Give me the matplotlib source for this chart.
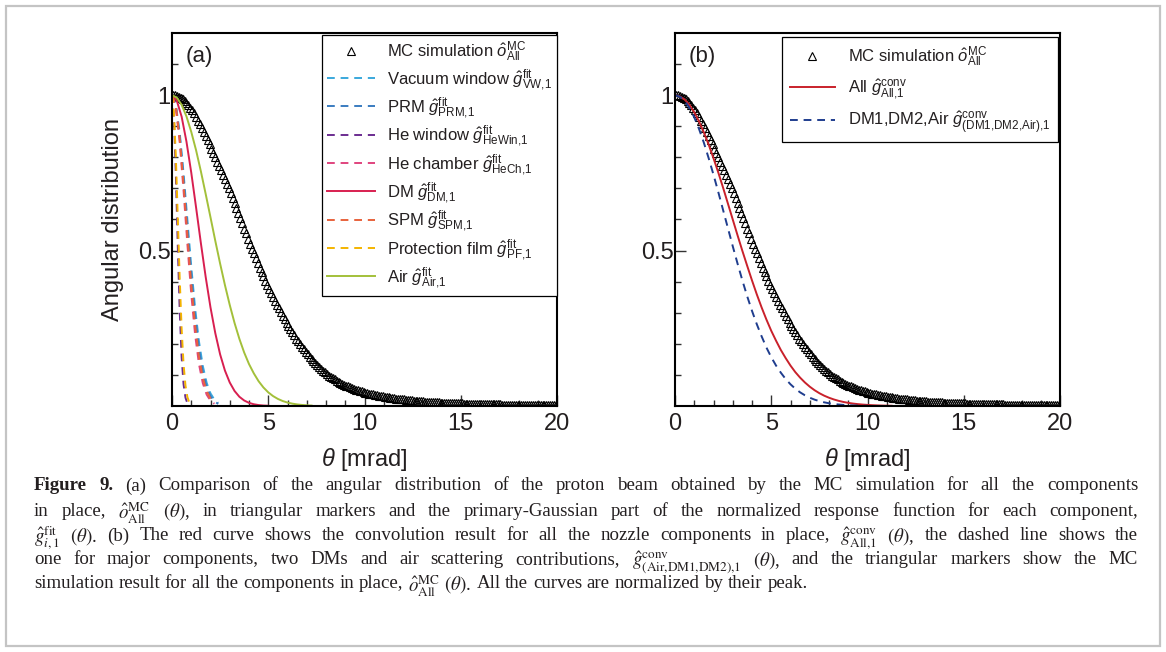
import numpy as np
import matplotlib
matplotlib.use("Agg")
import matplotlib.pyplot as plt
from matplotlib.patches import Rectangle
from matplotlib.ticker import FixedLocator, FixedFormatter

plt.rcParams['font.family'] = ['Liberation Sans', 'DejaVu Sans']
plt.rcParams['mathtext.fontset'] = 'custom'
plt.rcParams['mathtext.rm'] = 'Liberation Sans'
plt.rcParams['mathtext.it'] = 'Liberation Sans:italic'
plt.rcParams['mathtext.bf'] = 'Liberation Sans:bold'

# ---------------- data ----------------
theta_mc = np.round(np.arange(0.05, 20.0, 0.1), 2)
mc_all = [
    1.000, 0.999, 0.997, 0.995, 0.991, 0.988, 0.982, 0.975, 0.967, 0.958,
    0.951, 0.942, 0.930, 0.918, 0.906, 0.894, 0.881, 0.868, 0.855, 0.842,
    0.828, 0.814, 0.800, 0.786, 0.772, 0.758, 0.744, 0.729, 0.715, 0.700,
    0.685, 0.669, 0.653, 0.637, 0.620, 0.604, 0.588, 0.571, 0.555, 0.538,
    0.522, 0.506, 0.491, 0.475, 0.460, 0.445, 0.431, 0.417, 0.403, 0.390,
    0.377, 0.364, 0.351, 0.339, 0.326, 0.314, 0.302, 0.290, 0.279, 0.268,
    0.257, 0.247, 0.237, 0.227, 0.217, 0.208, 0.199, 0.190, 0.182, 0.174,
    0.166, 0.159, 0.152, 0.145, 0.138, 0.131, 0.125, 0.119, 0.113, 0.108,
    0.103, 0.098, 0.094, 0.090, 0.086, 0.082, 0.078, 0.075, 0.071, 0.068,
    0.065, 0.063, 0.060, 0.058, 0.055, 0.053, 0.051, 0.049, 0.047, 0.045,
    0.043, 0.042, 0.040, 0.039, 0.037, 0.036, 0.034, 0.033, 0.032, 0.031,
    0.030, 0.028, 0.028, 0.027, 0.025, 0.025, 0.024, 0.023, 0.022, 0.021,
    0.021, 0.020, 0.019, 0.019, 0.018, 0.017, 0.017, 0.016, 0.016, 0.015,
    0.0150, 0.0142, 0.0138, 0.0133, 0.0128, 0.0125, 0.0120, 0.0118, 0.0113, 0.0110,
    0.0108, 0.0104, 0.0103, 0.0098, 0.0097, 0.0092, 0.0091, 0.0088, 0.0086, 0.0083,
    0.0082, 0.0078, 0.0078, 0.0075, 0.0074, 0.0071, 0.0070, 0.0067, 0.0066, 0.0064,
    0.0063, 0.0060, 0.0061, 0.0057, 0.0058, 0.0054, 0.0055, 0.0051, 0.0052, 0.0049,
    0.0050, 0.0046, 0.0048, 0.0044, 0.0045, 0.0043, 0.0043, 0.0040, 0.0042, 0.0038,
    0.0040, 0.0037, 0.0038, 0.0035, 0.0037, 0.0034, 0.0035, 0.0033, 0.0033, 0.0031,
    0.0032, 0.0030, 0.0031, 0.0028, 0.0030, 0.0027, 0.0029, 0.0026, 0.0028, 0.0025,
]

theta_narrow = np.round(np.arange(0.0, 1.01, 0.1), 2)
he_window = [1.0, 0.929, 0.744, 0.514, 0.306, 0.157, 0.070, 0.0267, 0.0088]
prot_film = [1.0, 0.946, 0.801, 0.607, 0.411, 0.249, 0.135, 0.066, 0.0286, 0.0111, 0.0039]

theta_mid = np.round(np.arange(0.0, 2.41, 0.2), 2)
he_chamber = [1.0, 0.960, 0.849, 0.693, 0.520, 0.360, 0.230, 0.135, 0.0734, 0.0367, 0.0169, 0.0072]
spm = [1.0, 0.963, 0.860, 0.713, 0.549, 0.391, 0.259, 0.159, 0.0905, 0.0478, 0.0234, 0.0107]
prm = [1.0, 0.966, 0.871, 0.732, 0.575, 0.421, 0.288, 0.183, 0.109, 0.0605, 0.0313, 0.0151, 0.0068]
vac_window = [1.0, 0.968, 0.880, 0.749, 0.599, 0.449, 0.315, 0.208, 0.129, 0.0746, 0.0406, 0.0207, 0.0099]

theta_wide = np.round(np.arange(0.0, 11.26, 0.25), 2)
dm = [1.0, 0.982, 0.931, 0.851, 0.751, 0.639, 0.524, 0.415, 0.317, 0.234, 0.166,
      0.114, 0.0756, 0.0483, 0.0297, 0.0177, 0.0101, 0.0056, 0.0030, 0.0015, 0.0008]
air = [1.0, 0.992, 0.969, 0.932, 0.882, 0.823, 0.755, 0.682, 0.607, 0.531, 0.458,
       0.389, 0.325, 0.267, 0.216, 0.172, 0.135, 0.105, 0.0796, 0.0596, 0.0439,
       0.0319, 0.0228, 0.0160, 0.0111, 0.0076, 0.0051, 0.0034, 0.0022, 0.0014]
conv_all = [1.0, 0.996, 0.986, 0.969, 0.945, 0.915, 0.880, 0.841, 0.797, 0.751, 0.702,
            0.651, 0.600, 0.549, 0.499, 0.451, 0.404, 0.359, 0.317, 0.278, 0.242,
            0.210, 0.180, 0.154, 0.130, 0.109, 0.0912, 0.0756, 0.0622, 0.0508, 0.0412,
            0.0332, 0.0266, 0.0211, 0.0166, 0.0130, 0.0101, 0.0078, 0.0060, 0.0046, 0.0035,
            0.0026, 0.0019, 0.0014, 0.0010, 0.0008]
conv_major = [1.0, 0.995, 0.982, 0.959, 0.929, 0.891, 0.847, 0.797, 0.744, 0.688, 0.630,
              0.572, 0.514, 0.458, 0.404, 0.353, 0.306, 0.263, 0.224, 0.188, 0.157,
              0.130, 0.107, 0.0867, 0.0698, 0.0556, 0.0439, 0.0344, 0.0267, 0.0205, 0.0156,
              0.0118, 0.0088, 0.0065, 0.0048, 0.0035, 0.0025, 0.0018, 0.0013, 0.0009, 0.0006]

lab_mc = r'MC simulation $\hat{o}^{\mathrm{MC}}_{\mathrm{All}}$'
labels_a = [
    r'Vacuum window $\hat{g}^{\mathrm{fit}}_{\mathrm{VW{,}1}}$',
    r'PRM $\hat{g}^{\mathrm{fit}}_{\mathrm{PRM{,}1}}$',
    r'He window $\hat{g}^{\mathrm{fit}}_{\mathrm{HeWin{,}1}}$',
    r'He chamber $\hat{g}^{\mathrm{fit}}_{\mathrm{HeCh{,}1}}$',
    r'DM $\hat{g}^{\mathrm{fit}}_{\mathrm{DM{,}1}}$',
    r'SPM $\hat{g}^{\mathrm{fit}}_{\mathrm{SPM{,}1}}$',
    r'Protection film $\hat{g}^{\mathrm{fit}}_{\mathrm{PF{,}1}}$',
    r'Air $\hat{g}^{\mathrm{fit}}_{\mathrm{Air{,}1}}$',
]
labels_b = [r'All $\hat{g}^{\mathrm{conv}}_{\mathrm{All{,}1}}$',
            r'DM1,DM2,Air $\hat{g}^{\mathrm{conv}}_{\mathrm{(DM1{,}DM2{,}Air){,}1}}$']

x_ticks = [0, 5, 10, 15, 20]
y_ticks = [0.5, 1.0]
y_tick_labels = ['0.5', '1']

# ---------------- figure ----------------
W, H = 1166, 652
fig = plt.figure(figsize=(W / 100, H / 100), dpi=100)
fig.patches.append(Rectangle((6 / W, 6 / H), 1154 / W, 640 / H, transform=fig.transFigure,
                             fill=False, edgecolor='#c4c4c4', lw=1.6))

def px_axes(x0, x1, ytop, ybot):
    return fig.add_axes([x0 / W, 1 - ybot / H, (x1 - x0) / W, (ybot - ytop) / H])

axa = px_axes(172, 557, 33, 406)
axb = px_axes(675, 1060, 33, 406)

tick_col = '#231f20'
for ax in (axa, axb):
    ax.set_xlim(0, 20)
    ax.set_ylim(0, 1.2)
    for s in ax.spines.values():
        s.set_linewidth(1.5)
        s.set_color('black')
    ax.xaxis.set_major_locator(FixedLocator(x_ticks))
    ax.xaxis.set_minor_locator(FixedLocator([v for v in range(0, 21) if v % 5]))
    ax.yaxis.set_major_locator(FixedLocator(y_ticks))
    ax.yaxis.set_major_formatter(FixedFormatter(y_tick_labels))
    ax.yaxis.set_minor_locator(FixedLocator([round(0.1 * k, 1) for k in range(1, 12) if k not in (5, 10)]))
    ax.tick_params(which='both', direction='in', top=False, right=False, colors='#333333',
                   labelcolor=tick_col, labelsize=17)
    ax.tick_params(which='major', length=8, width=1.0)
    ax.tick_params(which='minor', length=4.5, width=1.0)
    ax.tick_params(axis='y', pad=1)
    ax.tick_params(axis='x', pad=5)
    ax.set_xlabel(r'$\theta$ [mrad]', fontsize=17, color=tick_col, labelpad=8)

axa.set_ylabel('Angular distribution', fontsize=17, color=tick_col, labelpad=10)

mk = dict(ls='none', marker='^', ms=5.5, mfc='none', mec='black', mew=0.8)
dash = (0, (4, 3))

# panel (a)
axa.plot(theta_mc, mc_all, label=lab_mc, **mk)
axa.plot(theta_mid[:len(vac_window)], vac_window, color='#3aa8dc', ls=dash, lw=1.4, label=labels_a[0])
axa.plot(theta_mid[:len(prm)], prm, color='#3a7cc0', ls=dash, lw=1.4, label=labels_a[1])
axa.plot(theta_narrow[:len(he_window)], he_window, color='#6b2d90', ls=dash, lw=1.4, label=labels_a[2])
axa.plot(theta_mid[:len(he_chamber)], he_chamber, color='#e0447e', ls=dash, lw=1.4, label=labels_a[3])
axa.plot(theta_wide[:len(dm)], dm, color='#d81f50', ls='-', lw=1.4, label=labels_a[4])
axa.plot(theta_mid[:len(spm)], spm, color='#e8623c', ls=dash, lw=1.4, label=labels_a[5])
axa.plot(theta_narrow[:len(prot_film)], prot_film, color='#f4b400', ls=dash, lw=1.4, label=labels_a[6])
axa.plot(theta_wide[:len(air)], air, color='#a3c03a', ls='-', lw=1.4, label=labels_a[7])

axa.text(0.035, 0.965, '(a)', transform=axa.transAxes, fontsize=16, color=tick_col, va='top', ha='left')
lega = axa.legend(loc='upper right', bbox_to_anchor=(1.0, 0.995), fontsize=12, frameon=True,
                  fancybox=False, edgecolor='black', framealpha=1, handlelength=2.9,
                  handletextpad=0.7, labelspacing=0.14, borderpad=0.3, borderaxespad=0)
lega.get_frame().set_linewidth(0.9)
for t in lega.get_texts():
    t.set_color(tick_col)

# panel (b)
axb.plot(theta_mc, mc_all, label=lab_mc, **mk)
axb.plot(theta_wide[:len(conv_all)], conv_all, color='#c9212b', ls='-', lw=1.4, label=labels_b[0])
axb.plot(theta_wide[:len(conv_major)], conv_major, color='#1f3d8e', ls=dash, lw=1.4, label=labels_b[1])
axb.text(0.035, 0.965, '(b)', transform=axb.transAxes, fontsize=16, color=tick_col, va='top', ha='left')
legb = axb.legend(loc='upper right', bbox_to_anchor=(0.995, 0.99), fontsize=12, frameon=True,
                  fancybox=False, edgecolor='black', framealpha=1, handlelength=2.7,
                  handletextpad=0.8, labelspacing=0.5, borderpad=0.45, borderaxespad=0)
legb.get_frame().set_linewidth(0.9)
for t in legb.get_texts():
    t.set_color(tick_col)

# ---------------- caption ----------------
renderer = fig.canvas.get_renderer()
cap_lines = [
    (True, r'Figure 9.  (a) Comparison of the angular distribution of the proton beam obtained by the MC simulation for all the components'),
    (True, r'in place, $\hat{o}^{\mathrm{MC}}_{\mathrm{All}}$ $(\theta)$, in triangular markers and the primary-Gaussian part of the normalized response function for each component,'),
    (True, r'$\hat{g}^{\mathrm{fit}}_{i,1}$ $(\theta)$. (b) The red curve shows the convolution result for all the nozzle components in place, $\hat{g}^{\mathrm{conv}}_{\mathrm{All{,}1}}$ $(\theta)$, the dashed line shows the'),
    (True, r'one for major components, two DMs and air scattering contributions, $\hat{g}^{\mathrm{conv}}_{\mathrm{(Air{,}DM1{,}DM2){,}1}}$ $(\theta)$, and the triangular markers show the MC'),
    (False, r'simulation result for all the components in place, $\hat{o}^{\mathrm{MC}}_{\mathrm{All}}$ $(\theta)$. All the curves are normalized by their peak.'),
]
cap_y = [484, 509, 534, 558, 582]
x_left, x_right = 34, 1138
cap_fs = 13.6
sp1 = fig.text(0, 0, 'a a', fontsize=cap_fs, family='Liberation Serif')
sp2 = fig.text(0, 0, 'aa', fontsize=cap_fs, family='Liberation Serif')
space = sp1.get_window_extent(renderer).width - sp2.get_window_extent(renderer).width
sp1.remove()
sp2.remove()
for (just, line), ypx in zip(cap_lines, cap_y):
    words = [w for w in line.split(' ') if w != '']
    objs = []
    for i, w in enumerate(words):
        bold = line.startswith('Figure') and i < 2
        t = fig.text(0, 1 - ypx / H, w, fontsize=cap_fs, family='Liberation Serif',
                     weight='bold' if bold else 'normal', math_fontfamily='stix',
                     va='center_baseline', ha='left', color='#231f20')
        objs.append(t)
    widths = [o.get_window_extent(renderer).width for o in objs]
    total = sum(widths)
    if just and len(words) > 1:
        gap = (x_right - x_left - total) / (len(words) - 1)
    else:
        gap = space
    x = x_left
    for o, wd in zip(objs, widths):
        o.set_x(x / W)
        x += wd + gap

fig.savefig('out.png', dpi=100)
